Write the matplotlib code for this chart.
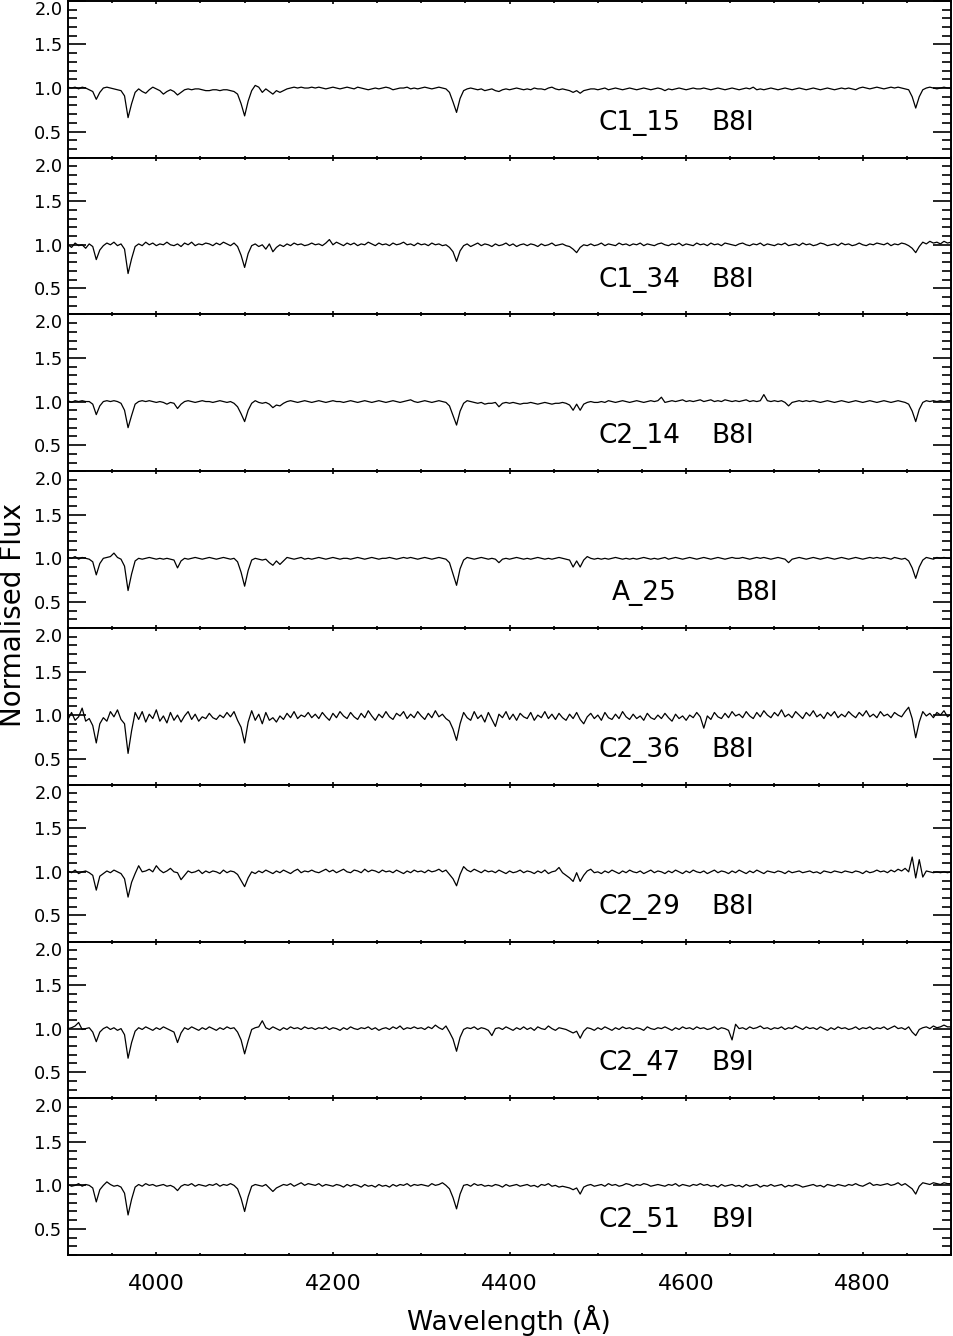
import numpy as np
import matplotlib
matplotlib.use('Agg')
import matplotlib.pyplot as plt
from matplotlib.ticker import MultipleLocator

plt.rcParams['font.family'] = ['DejaVu Sans']

# wavelength sampling of the spectra (Angstrom)
wave = np.arange(3900, 4901, 4)

names = ['C1_15', 'C1_34', 'C2_14', 'A_25', 'C2_36', 'C2_29', 'C2_47', 'C2_51']
types = ['B8I', 'B8I', 'B8I', 'B8I', 'B8I', 'B8I', 'B9I', 'B9I']
flux_ticks = [0.5, 1.0, 1.5, 2.0]


def to_flux(s):
    # values typed in percent of the continuum
    return np.array(s.split(), dtype=float) / 100


flux_c1_15 = to_flux("""
101 100 101 99 101 100 98 96 87 95
100 101 100 99 98 97 91 66 82 95
99 96 94 98 101 99 97 93 96 98
96 92 95 98 99 98 99 99 98 97
97 98 98 97 98 98 97 96 93 82
68 85 97 103 101 95 99 96 93 97
95 97 99 100 101 100 101 100 100 101
100 101 100 99 100 101 100 99 100 101
100 99 101 100 99 98 99 100 99 100
101 100 98 99 100 100 101 99 100 99
100 101 100 99 100 101 100 99 95 84
72 88 97 99 100 99 98 99 97 98
99 97 96 98 99 98 99 100 99 98
99 98 100 99 99 98 100 101 99 98
99 98 97 95 97 94 97 98 99 99
98 99 100 98 99 100 99 98 99 100
99 98 99 100 99 98 99 100 99 97
99 98 99 100 99 98 99 100 99 99
100 99 98 99 100 99 98 99 100 99
98 99 100 99 101 98 99 98 99 100
99 98 99 100 99 98 99 100 99 98
99 100 99 98 99 100 99 98 99 100
99 100 99 98 100 101 100 99 100 101
100 99 100 101 100 101 100 99 98 90
77 90 98 100 101 100 99 100 101 100
100
""")

flux_c1_34 = to_flux("""
100 97 102 99 100 96 101 98 83 94
99 102 100 103 99 101 95 67 84 98
101 99 103 100 102 99 101 100 103 100
99 101 98 102 100 103 99 101 100 102
101 99 102 100 103 101 99 102 98 88
74 90 99 101 98 100 95 101 92 97
100 98 101 99 102 100 101 99 100 102
100 101 99 102 106 100 103 101 99 102
100 102 99 101 100 103 101 99 102 100
101 99 102 100 101 103 100 101 99 102
100 101 99 102 100 101 99 100 97 92
81 93 99 101 98 100 102 99 101 100
98 101 99 100 102 99 101 98 100 101
99 101 100 98 101 99 100 102 99 100
101 99 98 95 91 97 100 99 101 99
100 102 99 101 100 99 102 100 101 99
101 100 102 99 101 100 99 101 102 100
99 101 100 102 99 101 100 99 102 100
101 99 102 100 101 99 102 101 100 99
101 102 100 99 101 100 102 99 101 100
99 101 100 102 99 100 101 99 102 100
101 99 100 102 101 99 100 101 99 102
100 101 99 100 102 100 99 101 100 102
101 100 102 99 101 100 102 101 99 96
91 98 103 101 104 102 103 101 104 102
103
""")

flux_c2_14 = to_flux("""
101 99 101 100 101 100 100 97 85 95
100 101 100 101 100 98 90 70 84 97
100 101 100 101 100 99 100 99 97 99
98 92 97 100 101 100 99 100 101 100
100 99 100 101 100 99 100 98 94 86
77 90 98 101 99 98 99 97 93 96
95 98 100 101 100 99 100 101 100 99
100 101 100 99 100 101 100 100 99 100
101 100 99 100 101 100 99 100 101 100
99 100 101 100 99 100 101 102 100 99
100 101 100 99 100 101 100 99 95 84
73 89 98 101 100 99 98 99 97 98
98 99 94 98 99 98 99 98 97 98
98 99 98 97 98 99 98 97 98 98
99 98 96 90 97 90 97 99 100 99
99 100 99 101 100 99 100 101 100 99
100 101 100 99 100 101 100 101 105 99
100 101 100 101 102 100 101 100 101 102
100 101 102 100 101 100 102 101 100 101
100 101 102 100 101 100 101 108 101 100
101 100 101 99 95 99 100 101 100 101
100 101 100 99 100 101 100 99 100 101
100 99 100 101 100 99 100 101 100 99
100 101 100 99 100 101 100 99 97 89
77 91 99 101 100 101 100 101 100 101
101
""")

flux_a_25 = to_flux("""
101 100 102 99 101 100 99 96 81 94
100 101 102 106 101 99 91 63 82 97
100 99 100 101 100 99 100 99 100 99
98 89 97 100 99 100 101 100 99 100
101 100 99 100 101 100 99 100 96 84
68 86 98 100 99 98 99 95 92 97
93 97 101 100 99 100 101 99 100 99
100 101 100 99 100 101 100 99 100 100
99 100 101 100 99 100 101 100 99 100
100 101 100 99 100 101 100 101 100 99
100 101 100 99 100 101 100 99 95 82
69 88 98 101 100 99 100 101 100 99
100 99 95 99 100 99 100 101 100 99
100 99 100 101 100 99 100 99 100 101
100 99 98 90 97 90 98 102 100 99
100 99 100 99 100 101 100 99 100 99
100 99 100 101 100 99 100 99 100 101
99 100 101 100 99 100 101 100 99 100
101 100 99 100 101 100 99 100 101 100
100 101 100 99 100 101 100 101 100 99
100 101 100 99 95 99 100 101 100 99
100 101 100 99 100 101 100 99 100 101
100 99 100 101 100 99 100 101 100 101
100 101 100 99 101 100 99 100 97 89
77 90 98 101 100 99 101 100 101 100
100
""")

flux_c2_36 = to_flux("""
95 103 94 98 108 93 96 88 68 90
97 93 104 98 106 95 90 56 82 103
95 104 92 101 96 106 93 99 91 103
94 100 92 99 104 95 101 93 98 96
102 97 95 100 97 103 98 104 94 86
68 92 105 94 101 90 103 94 97 92
99 95 102 97 104 96 100 98 103 97
101 96 103 98 94 102 97 104 99 96
103 98 95 102 97 105 99 94 101 97
104 98 95 102 99 104 96 101 97 104
99 95 102 97 105 98 101 96 93 84
71 90 103 97 94 104 96 100 92 103
95 87 101 97 104 95 101 94 102 98
96 103 94 100 97 104 96 101 95 102
97 94 101 96 103 95 90 98 102 96
100 94 103 97 95 101 96 104 98 95
101 96 99 94 102 97 95 100 96 102
97 93 101 96 99 94 100 97 103 98
85 99 95 103 98 96 102 97 104 99
101 97 104 99 96 103 98 105 100 97
103 99 106 98 101 97 104 100 96 103
99 105 98 101 96 103 99 104 97 101
98 104 100 97 103 99 105 98 101 97
104 99 101 97 103 100 98 104 109 96
74 92 104 99 102 97 103 100 105 98
101
""")

flux_c2_29 = to_flux("""
101 99 102 98 100 101 99 96 79 95
98 101 99 102 100 98 92 71 88 98
107 100 101 103 100 107 102 99 101 104
100 99 91 96 101 99 100 102 98 101
99 101 100 98 102 99 101 100 97 90
83 93 100 98 101 99 102 100 98 101
99 102 100 98 101 103 99 101 100 102
100 99 101 103 100 102 99 101 103 100
99 102 101 99 103 100 102 101 99 102
100 101 99 102 100 98 101 99 102 100
101 99 102 100 101 103 100 102 97 92
84 97 106 102 100 103 101 99 102 100
101 99 102 100 98 101 99 100 102 99
101 100 98 101 99 102 98 100 101 105
99 96 93 89 99 89 96 101 103 99
100 98 101 99 102 100 98 101 99 102
100 99 101 98 100 102 99 101 100 98
101 99 102 100 98 101 99 102 100 99
101 98 100 102 99 101 100 98 101 99
102 100 98 101 99 102 100 98 101 100
99 101 100 98 101 99 100 101 99 100
101 99 100 98 101 100 99 101 100 99
101 100 99 101 100 98 101 99 100 102
100 101 99 102 100 103 101 104 100 117
93 114 94 101 100 99 100 99 100 99
100
""")

flux_c2_47 = to_flux("""
100 101 103 107 99 100 101 96 85 96
100 102 99 101 98 100 93 66 84 97
101 99 102 100 98 101 99 102 100 98
96 84 95 101 99 102 100 98 101 99
102 100 98 101 99 102 100 101 96 87
71 86 99 101 102 109 101 99 102 100
98 101 99 102 100 101 99 102 100 101
99 101 100 102 99 101 100 98 101 99
102 100 99 101 100 102 99 101 98 100
101 99 102 100 103 99 101 100 102 100
101 99 102 100 104 101 99 103 96 88
74 90 99 101 100 102 99 101 100 98
92 100 101 99 102 100 98 101 99 102
99 101 98 102 100 99 103 100 98 101
100 99 97 95 97 89 97 101 100 98
101 99 102 100 98 101 99 102 100 101
99 101 100 98 102 100 99 101 100 102
100 98 101 99 102 100 101 99 102 100
101 99 100 102 99 101 100 98 87 105
100 101 99 102 100 101 103 100 101 99
101 100 102 99 101 100 103 101 99 102
100 101 99 102 100 98 101 99 102 100
101 99 100 102 99 101 100 102 99 101
100 102 99 101 103 100 101 99 102 96
92 99 101 102 100 103 101 102 104 102
102
""")

flux_c2_51 = to_flux("""
101 99 100 102 99 101 100 97 81 95
100 104 101 99 100 98 91 66 84 98
101 99 102 100 101 99 100 101 99 100
98 94 99 101 100 102 99 101 100 99
101 100 102 99 101 100 102 100 96 85
70 87 99 101 100 99 101 97 93 97
99 101 100 102 99 101 103 100 102 101
100 102 99 101 100 99 101 100 98 101
99 101 100 98 101 99 100 98 101 99
100 98 101 99 101 100 102 99 101 100
101 100 99 102 100 101 103 100 96 86
73 90 100 101 99 102 100 101 99 100
99 101 100 98 101 99 100 101 99 100
101 99 100 98 101 100 102 99 100 98
99 98 97 95 97 90 98 100 101 99
100 101 99 102 100 101 99 100 102 101
99 101 100 102 101 99 100 101 100 99
101 100 102 99 101 100 99 101 100 102
100 101 99 100 98 101 99 100 101 99
100 98 101 99 100 101 98 100 99 101
99 100 101 98 100 99 101 100 98 99
100 101 99 100 98 101 100 99 101 100
99 101 100 102 100 99 101 103 100 101
100 101 102 100 101 103 100 102 99 96
90 99 103 102 101 103 102 101 103 102
102
""")

spectra = [flux_c1_15, flux_c1_34, flux_c2_14, flux_a_25,
           flux_c2_36, flux_c2_29, flux_c2_47, flux_c2_51]

# where the star name and the type are written (wavelength of left edge)
name_x = [4501, 4501, 4501, 4516, 4501, 4501, 4501, 4501]
type_x = [4629, 4629, 4629, 4656, 4629, 4629, 4629, 4629]

fig, axes = plt.subplots(8, 1, sharex=True, figsize=(9.54, 13.36), dpi=100)
fig.subplots_adjust(left=0.0713, right=0.9969, top=0.9993, bottom=0.0606, hspace=0)

for i, ax in enumerate(axes):
    ax.plot(wave, spectra[i], color='black', lw=0.9)
    ax.set_xlim(3900, 4900)
    ax.set_ylim(0.2, 2.0)
    ax.set_yticks(flux_ticks)
    ax.yaxis.set_minor_locator(MultipleLocator(0.1))
    ax.xaxis.set_major_locator(MultipleLocator(200))
    ax.xaxis.set_minor_locator(MultipleLocator(50))
    ax.tick_params(axis='y', which='both', direction='in', left=True, right=True,
                   width=1.2, labelsize=12.8, pad=4)
    ax.tick_params(axis='y', which='major', length=13)
    ax.tick_params(axis='y', which='minor', length=6.5)
    ax.tick_params(axis='x', which='both', direction='in', top=True, bottom=True, width=1.2)
    ax.tick_params(axis='x', which='major', length=2.2, labelsize=16, pad=14)
    ax.tick_params(axis='x', which='minor', length=1.2)
    # keep the "2.0" label inside its own panel, like the original
    ax.get_yticklabels()[-1].set_verticalalignment('top')
    for sp in ax.spines.values():
        sp.set_linewidth(1.4)
    ax.text(name_x[i], 0.52, names[i], fontsize=19)
    ax.text(type_x[i], 0.52, types[i], fontsize=19)

fig.text(0.5335, 0.0115, 'Wavelength (Å)', ha='center', va='center', fontsize=19)
fig.text(0.0136, 0.5397, 'Normalised Flux', ha='center', va='center',
         rotation=90, fontsize=20)

fig.savefig('out.png', dpi=100)
